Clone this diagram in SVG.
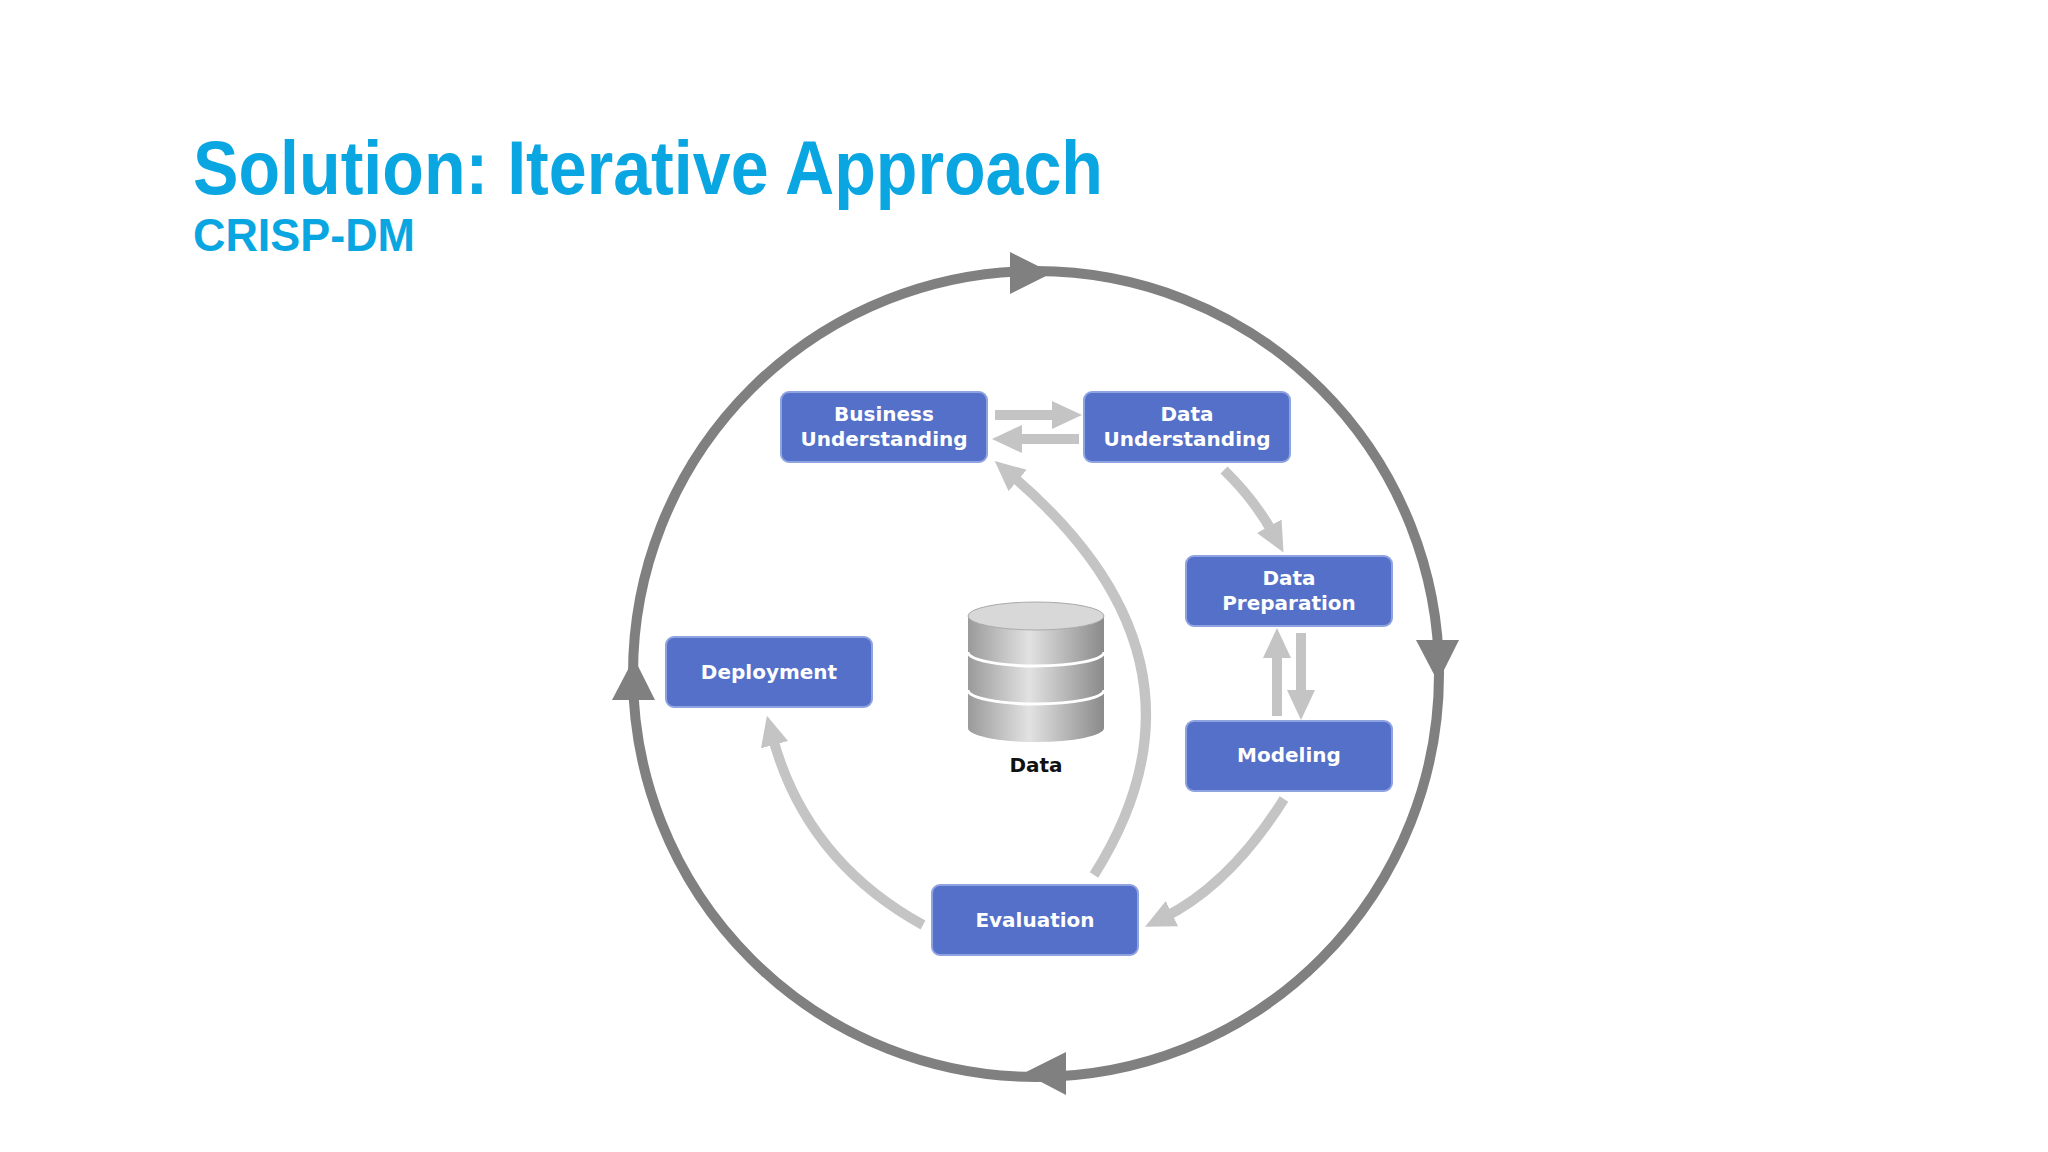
<svg xmlns="http://www.w3.org/2000/svg" width="2048" height="1152" viewBox="0 0 2048 1152">
<style>
.t{font-family:"Liberation Sans",Arial,sans-serif;font-weight:bold;fill:#0AA6E1}
.box rect{fill:#5470C8;stroke:#8FA3E0;stroke-width:2}
.box text{font-family:"DejaVu Sans",Verdana,sans-serif;font-weight:bold;font-size:20px;fill:#fff;text-anchor:middle}
.lg{fill:none;stroke:#C4C4C4;stroke-width:10}
</style>
<defs>
<marker id="ah" markerUnits="userSpaceOnUse" markerWidth="34" markerHeight="34" refX="10" refY="17" orient="auto">
<path d="M0,3 L30,17 L0,31 Z" fill="#C4C4C4"/></marker>
<linearGradient id="cyl" x1="0" x2="1"><stop offset="0" stop-color="#9a9a9a"/><stop offset="0.45" stop-color="#e2e2e2"/><stop offset="1" stop-color="#8a8a8a"/></linearGradient>
</defs>
<rect width="2048" height="1152" fill="#fff"/>
<text class="t" x="193" y="194" font-size="76" textLength="910" lengthAdjust="spacingAndGlyphs">Solution: Iterative Approach</text>
<text class="t" x="193" y="251" font-size="47" textLength="222" lengthAdjust="spacingAndGlyphs">CRISP-DM</text>
<g id="cycle">
<circle cx="1036" cy="674" r="403" fill="none" stroke="#808080" stroke-width="10"/>
<path d="M1010,252 L1052,273 L1010,294 Z" fill="#808080"/>
<path d="M1416,640 L1459,640 L1438,682 Z" fill="#808080"/>
<path d="M1066,1052 L1024,1073 L1066,1095 Z" fill="#808080"/>
<path d="M612,700 L634,658 L655,700 Z" fill="#808080"/>
</g>
<g id="connectors">
<path class="lg" d="M995,415 L1062,415" marker-end="url(#ah)"/>
<path class="lg" d="M1079,439 L1012,439" marker-end="url(#ah)"/>
<path class="lg" d="M1224,470 Q1255,500 1274,535" marker-end="url(#ah)"/>
<path class="lg" d="M1301,633 L1301,700" marker-end="url(#ah)"/>
<path class="lg" d="M1277,716 L1277,648" marker-end="url(#ah)"/>
<path class="lg" d="M1284,799 Q1230,885 1163,918" marker-end="url(#ah)"/>
<path class="lg" d="M1094,875 Q1230,660 1010,474" marker-end="url(#ah)"/>
<path class="lg" d="M923,925 Q805,860 772,735" marker-end="url(#ah)"/>
</g>
<g id="data">
<path d="M968,616 L968,728 A68,14 0 0 0 1104,728 L1104,616 Z" fill="url(#cyl)"/>
<ellipse cx="1036" cy="616" rx="68" ry="14" fill="#d8d8d8" stroke="#aaa"/>
<path d="M968,652 A68,14 0 0 0 1104,652 M968,690 A68,14 0 0 0 1104,690" fill="none" stroke="#fff" stroke-width="3"/>
<text x="1036" y="772" font-family="DejaVu Sans,sans-serif" font-weight="bold" font-size="20" text-anchor="middle" fill="#111">Data</text>
</g>
<g id="bu" class="box"><rect x="781" y="392" width="206" height="70" rx="8"/><text x="884" y="421">Business</text><text x="884" y="446">Understanding</text></g>
<g id="du" class="box"><rect x="1084" y="392" width="206" height="70" rx="8"/><text x="1187" y="421">Data</text><text x="1187" y="446">Understanding</text></g>
<g id="dp" class="box"><rect x="1186" y="556" width="206" height="70" rx="8"/><text x="1289" y="585">Data</text><text x="1289" y="610">Preparation</text></g>
<g id="mod" class="box"><rect x="1186" y="721" width="206" height="70" rx="8"/><text x="1289" y="762">Modeling</text></g>
<g id="dep" class="box"><rect x="666" y="637" width="206" height="70" rx="8"/><text x="769" y="679">Deployment</text></g>
<g id="eval" class="box"><rect x="932" y="885" width="206" height="70" rx="8"/><text x="1035" y="927">Evaluation</text></g>
</svg>
